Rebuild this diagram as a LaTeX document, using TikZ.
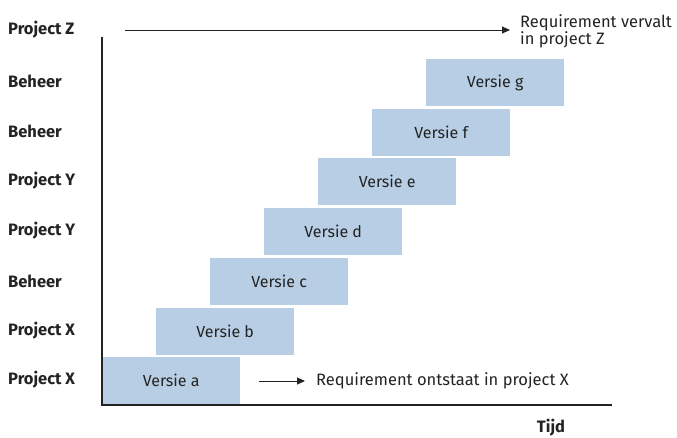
\documentclass[tikz,border=0pt]{standalone}
\usepackage{fontspec}
\setmainfont{Fira Sans}
\usetikzlibrary{arrows.meta}
\definecolor{boxblue}{RGB}{184,206,228}
\definecolor{ink}{RGB}{35,35,35}
\begin{document}
\begin{tikzpicture}[x=1pt,y=-1pt,
  vbox/.style={fill=boxblue,draw=none,minimum width=138pt,minimum height=47pt,inner sep=0pt,anchor=north west,font=\fontsize{16}{18}\selectfont,text=ink},
  rowlabel/.style={anchor=west,font=\bfseries\fontsize{16.5}{18}\selectfont,text=ink,inner sep=0pt},
  note/.style={anchor=west,font=\fontsize{16.5}{18}\selectfont,text=ink,inner sep=0pt,align=left},
  axis/.style={draw=ink,line width=2pt},
  arr/.style={draw=ink,line width=0.9pt,-{Triangle[length=8pt,width=7pt]}}]
\useasboundingbox (0,0) rectangle (677,437);
% boxes
\node[vbox] (a) at (102,357) {Versie a};
\node[vbox] (b) at (156,308) {Versie b};
\node[vbox] (c) at (210,258) {Versie c};
\node[vbox] (d) at (264,208) {Versie d};
\node[vbox] (e) at (318,158) {Versie e};
\node[vbox] (f) at (372,109) {Versie f};
\node[vbox] (g) at (426,59) {Versie g};
% axes
\coordinate (top) at (102,37);
\coordinate (origin) at (102,405);
\coordinate (right) at (612,405);
\draw[axis] (top) -- (origin) -- (right);
% row labels
\node[rowlabel] (l8) at (8,30) {Project Z};
\node[rowlabel] (l7) at (8,81) {Beheer};
\node[rowlabel] (l6) at (8,131) {Beheer};
\node[rowlabel] (l5) at (8,181) {Project Y};
\node[rowlabel] (l4) at (8,231) {Project Y};
\node[rowlabel] (l3) at (8,281) {Beheer};
\node[rowlabel] (l2) at (8,331) {Project X};
\node[rowlabel] (l1) at (8,380) {Project X};
% arrows and notes
\node[note] (nz) at (520,31) {Requirement vervalt\\[-1pt]in project Z};
\coordinate (zs) at (125,30);
\draw[arr] (zs) -- (510,30);
\node[note] (nx) at (316,381) {Requirement ontstaat in project X};
\coordinate (xs) at (259,381);
\draw[arr] (xs) -- (nx.west -| 305,0);
\node[anchor=base,font=\bfseries\fontsize{16.5}{18}\selectfont,text=ink,inner sep=0pt] (tijd) at (551,432) {Tijd};
\end{tikzpicture}
\end{document}
